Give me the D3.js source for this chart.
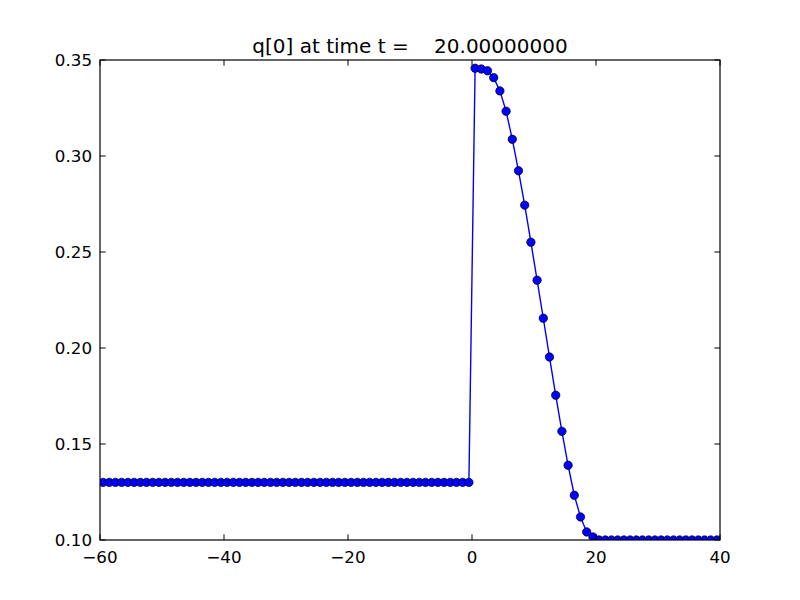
<!DOCTYPE html>
<html>
<head>
<meta charset="utf-8">
<script src="https://cdn.jsdelivr.net/npm/d3@7"></script>
<style>
  body { margin: 0; background: #fff; }
  text { font-family: "DejaVu Sans", sans-serif; }
</style>
</head>
<body>
<svg id="chart" width="800" height="600"></svg>
<script>
// cell centres and q[0] values
var xs = d3.range(-59.5, 40, 1);
var leftVals = new Array(60).fill(0.13);
var rightVals = [0.3457, 0.3453, 0.3444, 0.3408, 0.3339, 0.3233, 0.3087, 0.2923, 0.2744, 0.2551,
                 0.2353, 0.2155, 0.1953, 0.1754, 0.1566, 0.1389, 0.1233, 0.1120, 0.1042, 0.1016];
var tailVals = new Array(20).fill(0.10);
var qVals = leftVals.concat(rightVals, tailVals);

var xTicks = [-60, -40, -20, 0, 20, 40];
var yTicks = [0.10, 0.15, 0.20, 0.25, 0.30, 0.35];
var titleText = "q[0] at time t =    20.00000000";

var data = xs.map(function(x, i){ return {x: x, q: qVals[i]}; });

var svg = d3.select("#chart");
// note: "top" is reserved on window, so use plot* names
var plotL = 100, plotR = 720, plotT = 60, plotB = 540;

var x = d3.scaleLinear().domain([-60, 40]).range([plotL, plotR]);
var y = d3.scaleLinear().domain([0.10, 0.35]).range([plotB, plotT]);

svg.append("defs").append("clipPath").attr("id", "clip")
  .append("rect").attr("x", plotL).attr("y", plotT)
  .attr("width", plotR - plotL).attr("height", plotB - plotT);

var plot = svg.append("g").attr("clip-path", "url(#clip)");

var line = d3.line().x(d => x(d.x)).y(d => y(d.q));
plot.append("path").datum(data)
  .attr("d", line)
  .attr("fill", "none")
  .attr("stroke", "#0000ff")
  .attr("stroke-width", 1.4);

plot.selectAll("circle").data(data).enter().append("circle")
  .attr("cx", d => x(d.x))
  .attr("cy", d => y(d.q))
  .attr("r", 4.2)
  .attr("fill", "#0000ff")
  .attr("stroke", "#000")
  .attr("stroke-width", 0.7);

// frame
svg.append("rect").attr("x", plotL).attr("y", plotT)
  .attr("width", plotR - plotL).attr("height", plotB - plotT)
  .attr("fill", "none").attr("stroke", "#000").attr("stroke-width", 1.2);

var tickLen = 5.6;
var fmtX = function(v){ return v < 0 ? "\u2212" + Math.abs(v) : "" + v; };

// x ticks (inside, top and bottom)
xTicks.forEach(function(v){
  svg.append("line").attr("x1", x(v)).attr("x2", x(v))
    .attr("y1", plotB).attr("y2", plotB - tickLen).attr("stroke", "#000");
  svg.append("line").attr("x1", x(v)).attr("x2", x(v))
    .attr("y1", plotT).attr("y2", plotT + tickLen).attr("stroke", "#000");
  svg.append("text").attr("x", x(v)).attr("y", plotB + 23)
    .attr("text-anchor", "middle")
    .style("font-size", "16.7px")
    .text(fmtX(v));
});

// y ticks (inside, left and right)
yTicks.forEach(function(v){
  svg.append("line").attr("x1", plotL).attr("x2", plotL + tickLen)
    .attr("y1", y(v)).attr("y2", y(v)).attr("stroke", "#000");
  svg.append("line").attr("x1", plotR).attr("x2", plotR - tickLen)
    .attr("y1", y(v)).attr("y2", y(v)).attr("stroke", "#000");
  svg.append("text").attr("x", plotL - 8).attr("y", y(v))
    .attr("text-anchor", "end")
    .attr("dominant-baseline", "central")
    .style("font-size", "16.7px")
    .text(v.toFixed(2));
});

svg.append("text").attr("x", (plotL + plotR) / 2).attr("y", 53)
  .attr("text-anchor", "middle")
  .style("font-size", "20px")
  .style("white-space", "pre")
  .attr("xml:space", "preserve")
  .text(titleText);
</script>
</body>
</html>
